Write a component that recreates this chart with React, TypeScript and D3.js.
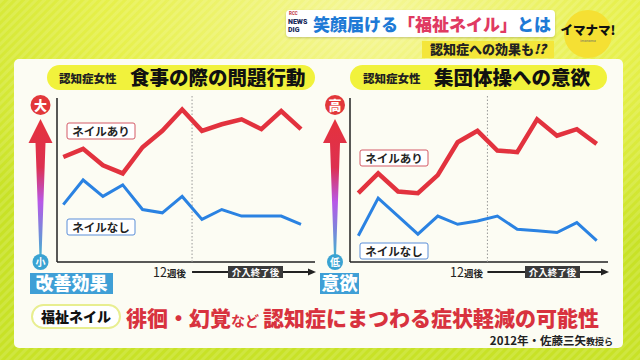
import React from "react";
import * as d3 from "d3";

// 週（0〜12）ごとの推定値（0〜100の相対スケール）
const weeks = d3.range(13);
const mealWithNail = [64, 69, 59, 54, 70, 80, 93, 80, 84, 87, 81, 92, 81];
const mealNoNail = [35, 50, 40, 47, 32, 30, 40, 26, 32, 28, 28, 28, 23];
const exerciseWithNail = [42, 54, 43, 42, 53, 73, 80, 68, 67, 87, 77, 81, 72];
const exerciseNoNail = [16, 39, 28, 17, 28, 23, 25, 28, 20, 19, 18, 24, 13];
const interventionEnd = 6.5;

const FONT = "'Noto Sans CJK JP', 'Noto Sans', sans-serif";
const LOGO_FONT = "Roboto, 'DejaVu Sans', sans-serif";
const RED = "#e2323e";
const BLUE = "#2a82e2";

type PanelProps = {
  id: string;
  axisX: number;
  x0: number;
  x1: number;
  xEnd: number;
  withNail: number[];
  noNail: number[];
  pill: [number, number];
  titleSmallX: number;
  title: string;
  topLabel: string;
  bottomLabel: string;
  sideLabel: string;
  sideBox: [number, number];
  arrowX: number;
  legendX: number;
  legendRedY: number;
  legendBlueY: number;
  weekLabelX: number;
  boxX: number;
};

const Panel: React.FC<PanelProps> = (p) => {
  const x = d3.scaleLinear().domain([0, 12]).range([p.x0, p.x1]);
  const y = d3.scaleLinear().domain([0, 100]).range([262, 98]);
  const line = d3
    .line<number>()
    .x((_, i) => x(weeks[i]))
    .y((d) => y(d));
  const dx = x(interventionEnd);
  const ax = p.arrowX;

  return (
    <g fontFamily={FONT}>
      {/* title pill */}
      <rect x={p.pill[0]} y={65} width={p.pill[1] - p.pill[0]} height={25} rx={12.5} fill="#f1f23c" />
      <text x={p.titleSmallX} y={83} fontSize={11.5} fontWeight={900} fill="#222">認知症女性</text>
      <text x={p.titleSmallX + 71} y={85} fontSize={19.5} fontWeight={900} fill="#111">{p.title}</text>

      {/* gradient arrow */}
      <defs>
        <linearGradient id={`grad-${p.id}`} x1="0" y1="0" x2="0" y2="1">
          <stop offset="0" stopColor="#e5323c" />
          <stop offset="0.35" stopColor="#dd3050" />
          <stop offset="0.6" stopColor="#b858e8" />
          <stop offset="1" stopColor="#3fb2cf" />
        </linearGradient>
      </defs>
      <path
        d={`M${ax},119 L${ax + 12},143 L${ax + 5},143 L${ax + 1},257 L${ax - 1},257 L${ax - 5},143 L${ax - 12},143 Z`}
        fill={`url(#grad-${p.id})`}
      />
      <circle cx={ax} cy={105} r={10} fill="#e2383a" />
      <text x={ax} y={109.5} textAnchor="middle" fontSize={13} fontWeight={900} fill="#fff">{p.topLabel}</text>
      <circle cx={ax} cy={262} r={8} fill="#3aa3d2" />
      <text x={ax} y={266} textAnchor="middle" fontSize={10} fontWeight={700} fill="#fff">{p.bottomLabel}</text>

      {/* side label */}
      <rect x={p.sideBox[0]} y={273} width={p.sideBox[1] - p.sideBox[0]} height={21} fill="#3f9fd6" />
      <text x={(p.sideBox[0] + p.sideBox[1]) / 2} y={290} textAnchor="middle" fontSize={18} fontWeight={900} fill="#fff">{p.sideLabel}</text>

      {/* axes */}
      <line x1={p.axisX} x2={p.axisX} y1={98} y2={262} stroke="#222" strokeWidth={1.5} />
      <line x1={p.axisX} x2={p.xEnd} y1={262} y2={262} stroke="#222" strokeWidth={1.5} />
      <line x1={dx} x2={dx} y1={96} y2={262} stroke="#999" strokeWidth={1} strokeDasharray="1.5,2" />

      {/* lines */}
      <path d={line(p.withNail) ?? ""} fill="none" stroke={RED} strokeWidth={4.5} strokeLinejoin="miter" />
      <path d={line(p.noNail) ?? ""} fill="none" stroke={BLUE} strokeWidth={3} strokeLinejoin="miter" />

      {/* legend boxes */}
      <rect x={p.legendX} y={p.legendRedY} width={68} height={16} rx={2} fill="#fff" stroke="#d45a66" strokeWidth={1} />
      <text x={p.legendX + 34} y={p.legendRedY + 12.5} textAnchor="middle" fontSize={11.5} fontWeight={700} fill="#222">ネイルあり</text>
      <rect x={p.legendX} y={p.legendBlueY} width={68} height={16} rx={2} fill="#fff" stroke="#5a8ed8" strokeWidth={1} />
      <text x={p.legendX + 34} y={p.legendBlueY + 12.5} textAnchor="middle" fontSize={11.5} fontWeight={700} fill="#222">ネイルなし</text>

      {/* x annotation */}
      <text x={p.weekLabelX} y={277} fontSize={12.5} fill="#222">
        12<tspan fontSize={9.5} fontWeight={700}>週後</tspan>
      </text>
      <line x1={dx} x2={p.xEnd - 4} y1={272} y2={272} stroke="#222" strokeWidth={2} />
      <path d={`M${p.xEnd - 7},268.5 L${p.xEnd + 1},272 L${p.xEnd - 7},275.5 Z`} fill="#222" />
      <rect x={p.boxX} y={266} width={55} height={12} fill="#3a3a3a" />
      <text x={p.boxX + 27.5} y={275.5} textAnchor="middle" fontSize={9.5} fontWeight={700} fill="#fff">介入終了後</text>
    </g>
  );
};

export default function App() {
  return (
    <svg width={640} height={360} style={{ display: "block", position: "absolute", left: 0, top: 0 }}>
      <defs>
        <radialGradient id="bg" cx="0.58" cy="0.05" r="0.75">
          <stop offset="0" stopColor="#f6f79a" />
          <stop offset="0.55" stopColor="#e6f04a" />
          <stop offset="1" stopColor="#c8e226" />
        </radialGradient>
        <pattern id="stripes" width="6" height="6" patternUnits="userSpaceOnUse" patternTransform="rotate(45)">
          <rect width="3" height="6" fill="#ffffff" opacity="0.12" />
        </pattern>
        <filter id="shadow" x="-10%" y="-10%" width="120%" height="130%">
          <feDropShadow dx="0" dy="1" stdDeviation="1" floodColor="#000" floodOpacity="0.2" />
        </filter>
      </defs>
      <rect width={640} height={360} fill="url(#bg)" />
      <rect width={640} height={360} fill="url(#stripes)" />

      {/* header */}
      <g fontFamily={FONT}>
        <rect x={286} y={10} width={269} height={27} rx={4} fill="#fff" filter="url(#shadow)" />
        <text x={289} y={15} fontSize={4.5} fontWeight={700} fill="#c0303a" fontFamily={LOGO_FONT}>RCC</text>
        <text x={288} y={23.5} fontSize={7} fontWeight={900} fill="#1a2a5a" fontFamily={LOGO_FONT}>NEWS</text>
        <text x={288} y={32} fontSize={7} fontWeight={900} fill="#1a2a5a" fontFamily={LOGO_FONT}>DIG</text>
        <text x={313} y={31} fontSize={17} fontWeight={900} fill="#1e7ad6">
          笑顔届ける<tspan fill="#e03a62">「福祉ネイル」</tspan>とは
        </text>
        <rect x={422} y={41} width={132} height={17} fill="#f4e63a" />
        <text x={488} y={54} textAnchor="middle" fontSize={13} fontWeight={900} fill="#222">
          認知症への効果も<tspan fontStyle="italic">!?</tspan>
        </text>
        <circle cx={588} cy={34} r={24} fill="#f5e033" />
        <text x={588} y={35} textAnchor="middle" fontSize={12.5} fontWeight={900} fill="#111">イマナマ!</text>
        <text x={588} y={42} textAnchor="middle" fontSize={3.5} fill="#666">imanama</text>
      </g>

      {/* main panel */}
      <rect x={14} y={59} width={609} height={289} rx={5} fill="#fcfcf3" />

      <Panel
        id="meal"
        axisX={57}
        x0={63.3}
        x1={301}
        xEnd={315}
        withNail={mealWithNail}
        noNail={mealNoNail}
        pill={[47, 315]}
        titleSmallX={59}
        title="食事の際の問題行動"
        topLabel="大"
        bottomLabel="小"
        sideLabel="改善効果"
        sideBox={[30, 113]}
        arrowX={40.5}
        legendX={67}
        legendRedY={123}
        legendBlueY={219}
        weekLabelX={153}
        boxX={228}
      />
      <Panel
        id="exercise"
        axisX={350}
        x0={358.3}
        x1={596.7}
        xEnd={608}
        withNail={exerciseWithNail}
        noNail={exerciseNoNail}
        pill={[350, 607]}
        titleSmallX={363}
        title="集団体操への意欲"
        topLabel="高"
        bottomLabel="低"
        sideLabel="意欲"
        sideBox={[320, 359]}
        arrowX={335}
        legendX={360}
        legendRedY={150}
        legendBlueY={243}
        weekLabelX={450}
        boxX={525}
      />

      {/* bottom message */}
      <g fontFamily={FONT}>
        <rect x={32} y={305} width={88} height={23} rx={11.5} fill="#fff" stroke="#e8ee90" strokeWidth={2} />
        <text x={76} y={322} textAnchor="middle" fontSize={14} fontWeight={900} fill="#111">福祉ネイル</text>
        <text x={126} y={326} fontSize={21} fontWeight={900} fill="#d8323e">
          徘徊・幻覚<tspan fontSize={14} fontWeight={700}>など</tspan>
          <tspan dx={4}>認知症にまつわる症状軽減の可能性</tspan>
        </text>
        <text x={613} y={345} textAnchor="end" fontSize={11.5} fontWeight={700} fill="#222">
          2012年・佐藤三矢<tspan fontSize={9}>教授ら</tspan>
        </text>
      </g>
    </svg>
  );
}
